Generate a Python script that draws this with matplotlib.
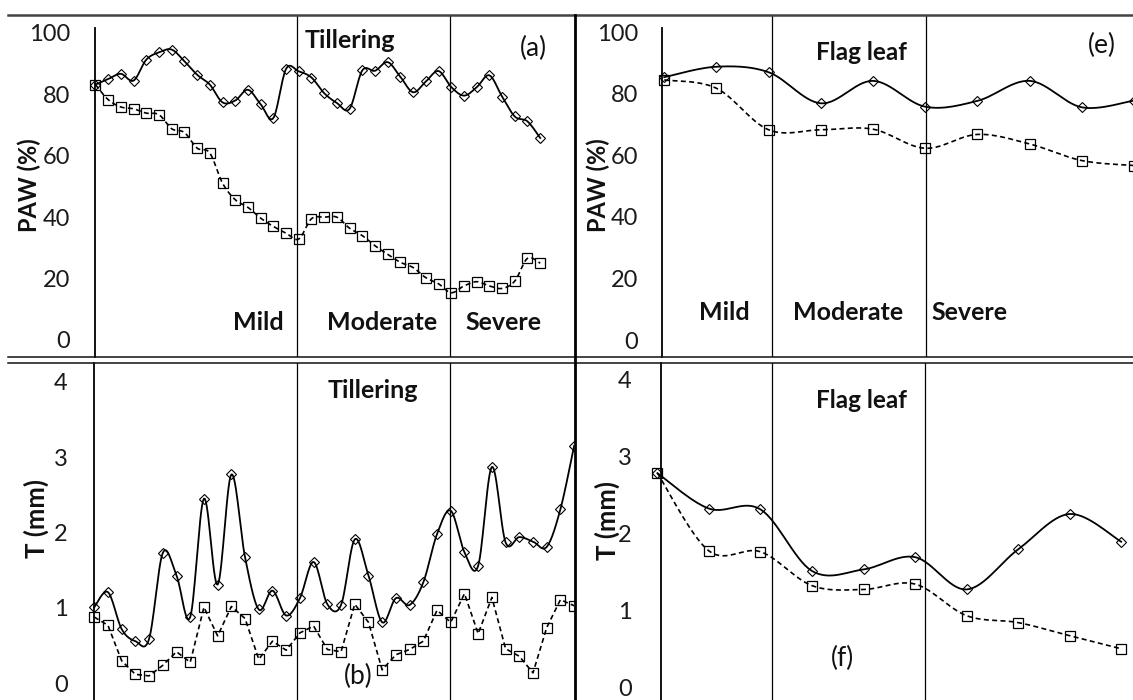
import numpy as np
import matplotlib
matplotlib.use("Agg")
import matplotlib.pyplot as plt
from matplotlib.lines import Line2D

plt.rcParams['font.family'] = ['Lato', 'DejaVu Sans']

W, H = 1133, 700

# ---- data ----
# tillering, plant available water (%) : solid = diamonds, dashed = squares
till_paw_solid = [83.2, 85.0, 86.7, 84.5, 91.3, 93.7, 94.6, 90.8, 86.4, 83.2, 77.4, 78.0,
                  81.5, 76.8, 72.3, 88.3, 87.5, 85.5, 80.4, 77.2, 75.3, 87.8, 87.7, 90.5,
                  85.7, 80.7, 84.2, 87.6, 82.4, 79.6, 82.3, 86.2, 79.3, 72.8, 71.2, 65.8]
till_paw_dash = [83.2, 78.3, 75.9, 75.3, 73.9, 73.4, 68.8, 67.6, 62.5, 60.9, 51.1, 45.7,
                 43.2, 39.7, 37.0, 34.8, 32.9, 39.5, 40.0, 40.0, 36.4, 34.0, 30.7, 27.9,
                 25.3, 23.6, 20.3, 18.3, 15.4, 17.6, 19.0, 17.6, 16.8, 19.2, 26.6, 25.0]
# tillering, transpiration T (mm)
till_t_solid = [1.01, 1.21, 0.72, 0.56, 0.59, 1.73, 1.43, 0.88, 2.45, 1.31, 2.77, 1.67,
                0.98, 1.23, 0.90, 1.13, 1.61, 1.05, 1.04, 1.91, 1.43, 0.81, 1.13, 1.04,
                1.34, 1.98, 2.29, 1.74, 1.56, 2.87, 1.87, 1.94, 1.88, 1.81, 2.31, 3.15]
till_t_dash = [0.88, 0.77, 0.30, 0.12, 0.10, 0.24, 0.42, 0.28, 1.01, 0.63, 1.02, 0.86,
               0.32, 0.56, 0.44, 0.67, 0.76, 0.45, 0.42, 1.05, 0.81, 0.18, 0.38, 0.45,
               0.56, 0.97, 0.81, 1.19, 0.66, 1.14, 0.46, 0.36, 0.14, 0.74, 1.11, 1.03]
# flag leaf
flag_paw_solid = [85.4, 88.8, 87.0, 76.9, 84.2, 75.8, 77.7, 84.2, 75.6, 77.8]
flag_paw_dash = [84.5, 81.8, 68.3, 68.3, 68.5, 62.3, 66.8, 63.7, 58.3, 56.7]
flag_t_solid = [2.78, 2.32, 2.31, 1.51, 1.53, 1.69, 1.27, 1.79, 2.25, 1.89]
flag_t_dash = [2.78, 1.77, 1.76, 1.32, 1.27, 1.34, 0.93, 0.84, 0.67, 0.50]

paw_ticks = [0, 20, 40, 60, 80, 100]
t_ticks = [0, 1, 2, 3, 4]
stress_labels = ['Mild', 'Moderate', 'Severe']


def fx(px):
    return px / W


def fy(py):
    return 1 - py / H


def px_axes(left, top, right, bottom):
    return fig.add_axes([fx(left), fy(bottom), (right - left) / W, (bottom - top) / H])


def smooth(y, n=16):
    # excel style smoothed line (bezier through the points)
    x = np.arange(len(y), dtype=float)
    pts = np.column_stack([x, np.asarray(y, float)])
    ext = np.vstack([pts[0], pts, pts[-1]])
    t = np.linspace(0, 1, n)[:, None]
    out = []
    for i in range(len(pts) - 1):
        p0, p1, p2, p3 = ext[i], ext[i + 1], ext[i + 2], ext[i + 3]
        c1 = p1 + (p2 - p0) / 6
        c2 = p2 - (p3 - p1) / 6
        seg = (1 - t) ** 3 * p1 + 3 * (1 - t) ** 2 * t * c1 + 3 * (1 - t) * t ** 2 * c2 + t ** 3 * p2
        out.append(seg if i == 0 else seg[1:])
    out = np.vstack(out)
    return out[:, 0], out[:, 1]


def draw_panel(ax, solid, dash, xlim, ylim, ticks, axis_x, top_val, bounds, pad,
               dash_smooth=True):
    ax.set_xlim(*xlim)
    ax.set_ylim(*ylim)
    for s in ['top', 'right', 'bottom']:
        ax.spines[s].set_visible(False)
    ax.spines['left'].set_position(('data', axis_x))
    ax.spines['left'].set_linewidth(1.3)
    ax.spines['left'].set_bounds(ylim[0], top_val)
    ax.set_xticks([])
    ax.set_yticks(ticks)
    ax.tick_params(axis='y', length=0, pad=pad, labelsize=17, labelcolor='#1a1a1a')
    ax.patch.set_visible(False)
    for b in bounds:
        ax.axvline(b, color='black', lw=0.9, ymax=1)
    xs, ys = smooth(solid)
    ax.plot(xs, ys, color='black', lw=1.3)
    ax.plot(range(len(solid)), solid, ls='none', marker='D', ms=4.6, mfc='none',
            mec='black', mew=0.8)
    if dash_smooth:
        xd, yd = smooth(dash)
    else:
        xd, yd = np.arange(len(dash)), np.asarray(dash)
    ax.plot(xd, yd, color='black', lw=1.2, dashes=(3, 2))
    ax.plot(range(len(dash)), dash, ls='none', marker='s', ms=7, mfc='none',
            mec='black', mew=0.9)


fig = plt.figure(figsize=(W / 100, H / 100), dpi=100)

# (a) tillering PAW
ax_a = px_axes(8, 15, 574, 357)
draw_panel(ax_a, till_paw_solid, till_paw_dash, (-6.88, 37.66), (-5.54, 105.86), paw_ticks,
           0, 101.7, [15.84, 27.91], 18)
# (b) tillering T
ax_b = px_axes(8, 363, 574, 700)
draw_panel(ax_b, till_t_solid, till_t_dash, (-6.29, 34.99), (-0.22, 4.248), t_ticks,
           0, 4.248, [14.76, 25.96], 19, dash_smooth=False)
# (e) flag leaf PAW
ax_e = px_axes(576, 15, 1133, 357)
draw_panel(ax_e, flag_paw_solid, flag_paw_dash, (-1.69, 8.98), (-5.52, 105.6), paw_ticks,
           -0.05, 101.4, [2.06, 5.01], 17)
# (f) flag leaf T
ax_f = px_axes(576, 363, 1133, 700)
draw_panel(ax_f, flag_t_solid, flag_t_dash, (-1.58, 9.23), (-0.165, 4.21), t_ticks,
           0.07, 4.21, [2.22, 5.20], 21)

# frame lines of the figure montage
fig.add_artist(Line2D([fx(8), fx(1133)], [fy(15), fy(15)], color='#444444', lw=1.8))
for yy in [356.7, 363.3]:
    fig.add_artist(Line2D([fx(8), fx(1133)], [fy(yy), fy(yy)], color='#111111', lw=1.1))
fig.add_artist(Line2D([fx(575), fx(575)], [fy(15), fy(700)], color='black', lw=2.0))

# axis titles
bold = dict(fontweight='bold', color='#111111', ha='center', va='center')
fig.text(fx(29), fy(185), 'PAW (%)', rotation=90, fontsize=17, **bold)
fig.text(fx(598), fy(185), 'PAW (%)', rotation=90, fontsize=17, **bold)
fig.text(fx(36), fy(518), 'T (mm)', rotation=90, fontsize=18.5, **bold)
fig.text(fx(607), fy(521), 'T (mm)', rotation=90, fontsize=18.5, **bold)

# panel annotations
fig.text(fx(350), fy(41), 'Tillering', fontsize=18, **bold)
fig.text(fx(373), fy(391), 'Tillering', fontsize=18, **bold)
fig.text(fx(861), fy(52), 'Flag leaf', fontsize=17.5, **bold)
fig.text(fx(861), fy(401), 'Flag leaf', fontsize=17.5, **bold)
for lab, xx in zip(stress_labels, [258, 382, 503]):
    fig.text(fx(xx), fy(323), lab, fontsize=18, **bold)
for lab, xx in zip(stress_labels, [724, 848, 969]):
    fig.text(fx(xx), fy(313), lab, fontsize=18, **bold)

norm = dict(color='#111111', ha='center', va='center', fontsize=19)
fig.text(fx(533), fy(48), '(a)', **norm)
fig.text(fx(358), fy(676), '(b)', **norm)
fig.text(fx(1102), fy(45), '(e)', **norm)
fig.text(fx(843), fy(658), '(f)', **norm)

fig.savefig('out.png', dpi=100)
